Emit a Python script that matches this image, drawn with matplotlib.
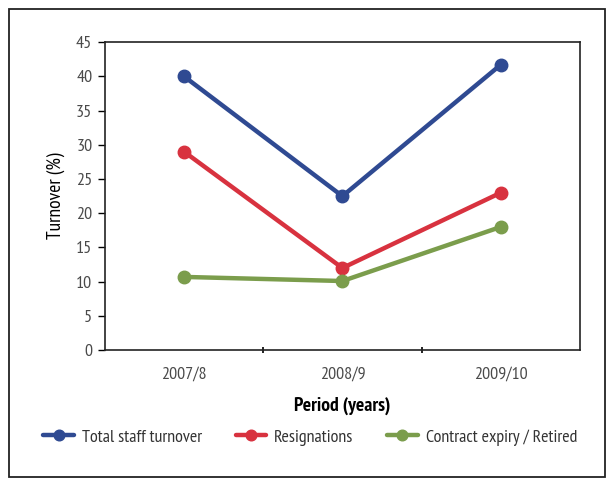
import matplotlib
matplotlib.use("Agg")
import matplotlib.pyplot as plt
from matplotlib.patches import Rectangle

periods = ["2007/8", "2008/9", "2009/10"]
total_turnover = [40.0, 22.5, 41.7]
resignations = [29.0, 12.0, 23.0]
contract_retired = [10.7, 10.1, 18.0]
series_names = ["Total staff turnover", "Resignations", "Contract expiry / Retired"]
series_colors = ["#2f4a92", "#d8323f", "#7b9d4c"]
y_ticks = list(range(0, 50, 5))

plt.rcParams["font.family"] = ["PT Sans Narrow", "DejaVu Sans"]

fig = plt.figure(figsize=(6.06, 4.79), dpi=100)
ax = fig.add_axes([0.173, 0.269, 0.784, 0.643])

x = list(range(len(periods)))
for vals, name, col in zip([total_turnover, resignations, contract_retired],
                           series_names, series_colors):
    ax.plot(x, vals, color=col, lw=3.2, marker="o", ms=9, label=name,
            solid_capstyle="round")

ax.set_xlim(-0.5, len(periods) - 0.5)
ax.set_ylim(0, 45)
ax.set_yticks(y_ticks)
ax.set_xticks(x)
ax.set_xticklabels(periods)
ax.set_xticks([i + 0.5 for i in x[:-1]], minor=True)
ax.tick_params(axis="x", which="major", length=0, pad=12, labelsize=13, labelcolor="#4a4a4a")
ax.tick_params(axis="x", which="minor", length=5, direction="inout", width=1.2)
ax.tick_params(axis="y", length=5, width=1.0, labelsize=13, labelcolor="#4a4a4a", pad=4)
for s in ax.spines.values():
    s.set_linewidth(1.2)
    s.set_color("#222222")

ax.set_xlabel("Period (years)", fontsize=14, fontweight="bold", labelpad=10)
ax.set_ylabel("Turnover (%)", fontsize=14, labelpad=8)

leg = fig.legend(loc="center", bbox_to_anchor=(0.512, 0.087), ncol=3, frameon=False,
                 fontsize=13, handlelength=1.7, columnspacing=1.85, handletextpad=0.45,
                 markerscale=0.85)
for t in leg.get_texts():
    t.set_color("#333333")

fig.add_artist(Rectangle((9 / 606, 2 / 479), 596 / 606, 468 / 479,
                         transform=fig.transFigure, fill=False,
                         edgecolor="#222222", lw=1.3))

fig.savefig("out.png", dpi=100)
